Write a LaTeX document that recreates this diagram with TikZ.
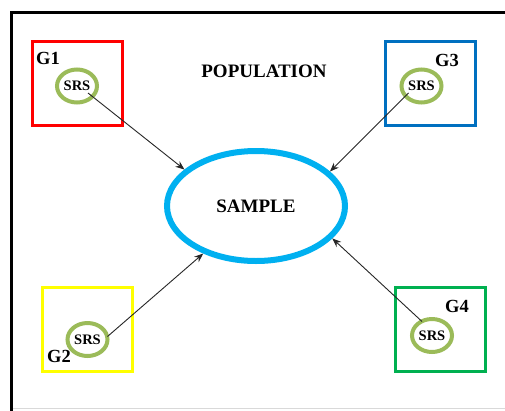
\documentclass[tikz,border=0pt]{standalone}
\usepackage{fontspec}
\setmainfont{Liberation Serif}
\usetikzlibrary{shapes.geometric,arrows.meta}
\definecolor{gred}{HTML}{FF0000}
\definecolor{gblue}{HTML}{0070C0}
\definecolor{gyellow}{HTML}{FFFF00}
\definecolor{ggreen}{HTML}{00B050}
\definecolor{golive}{HTML}{9BBB59}
\definecolor{gcyan}{HTML}{00B0F0}
\tikzset{
  grp/.style={draw, line width=3pt, minimum width=90pt, minimum height=84pt, inner sep=0pt},
  srs/.style={ellipse, draw=golive, line width=4pt, minimum width=40pt, minimum height=33pt, inner sep=0pt, font=\bfseries\fontsize{14.5}{15}\selectfont},
  lbl/.style={font=\bfseries\fontsize{18.5}{20}\selectfont, inner sep=0pt},
  conn/.style={-{Stealth[length=9pt,width=7pt]}, line width=0.9pt, black!85},
}
\begin{document}
\begin{tikzpicture}[x=1pt,y=-1pt]
\useasboundingbox (0,0) rectangle (505,410);
\clip (0,0) rectangle (505,410);
\fill[white] (0,0) rectangle (505,410);
% outer frame
\draw[line width=3pt] (11,430) -- (11,12) -- (530,12);
\draw[black!15, line width=0.6pt] (13,408) -- (505,408);
% group boxes
\node[grp, draw=gred] (b1) at (77.5,83) {};
\node[grp, draw=gblue] (b3) at (430.5,83) {};
\node[grp, draw=gyellow] (b2) at (87,329.5) {};
\node[grp, draw=ggreen] (b4) at (440,329.5) {};
% labels
\node[lbl] (g1) at (48,58) {G1};
\node[lbl] (g3) at (447,60) {G3};
\node[lbl] (g2) at (59,356) {G2};
\node[lbl] (g4) at (457,306) {G4};
\node[lbl, font=\bfseries\fontsize{19}{20}\selectfont] (pop) at (264,71) {POPULATION};
% SRS
\node[srs] (s1) at (77,86) {SRS};
\node[srs] (s3) at (421.5,86) {SRS};
\node[srs] (s2) at (87.5,339.5) {SRS};
\node[srs] (s4) at (432,335.5) {SRS};
% sample
\node[ellipse, draw=gcyan, line width=6pt, minimum width=178pt, minimum height=110pt, inner sep=0pt, font=\bfseries\fontsize{19}{20}\selectfont] (sample) at (256,206) {SAMPLE};
% arrows
\draw[conn] ([shift={(11,7)}]s1.center) -- (sample.153);
\draw[conn] ([shift={(-13,7)}]s3.center) -- (sample.25);
\draw[conn] ([shift={(20,-3)}]s2.center) -- (sample.222);
\draw[conn] ([shift={(-10,-14)}]s4.center) -- (sample.337);
\end{tikzpicture}
\end{document}
